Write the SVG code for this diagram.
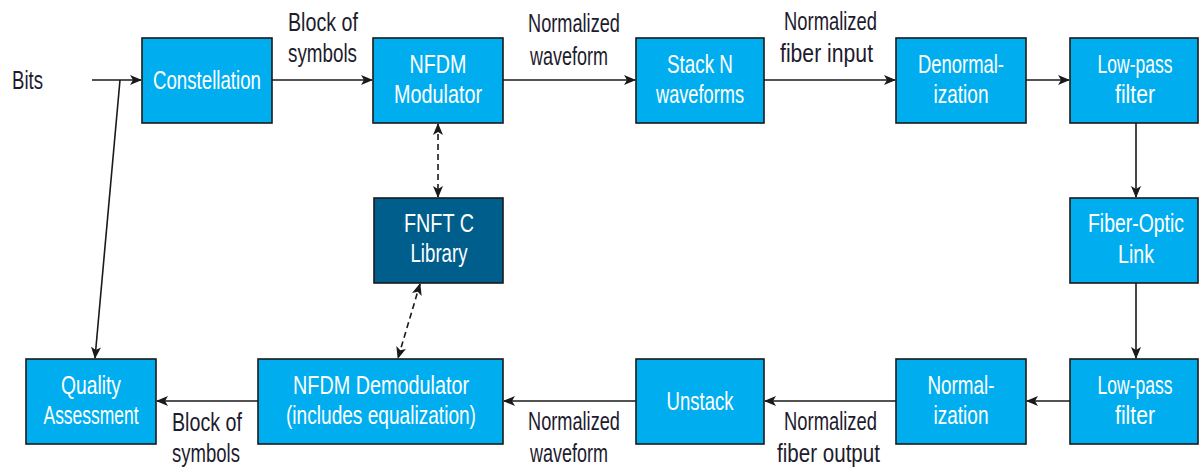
<svg xmlns="http://www.w3.org/2000/svg" width="1200" height="471" viewBox="0 0 1200 471">
<style>
.box{fill:#00aeef;stroke:#1a1a1a;stroke-width:1.6}
.dark{fill:#005e8c;stroke:#1a1a1a;stroke-width:1.6}
.nt{font-family:"Liberation Sans",Arial,sans-serif;font-size:26px;fill:#ffffff;text-anchor:middle}
.lt{font-family:"Liberation Sans",Arial,sans-serif;font-size:26px;fill:#1e1b2e}
.c{stroke:#1a1a1a;stroke-width:1.6;fill:none}
.d{stroke:#1a1a1a;stroke-width:1.6;fill:none;stroke-dasharray:6 4}
</style>
<defs>
<marker id="ah" viewBox="0 0 12 10" refX="11" refY="5" markerWidth="12" markerHeight="10" markerUnits="userSpaceOnUse" orient="auto-start-reverse">
<path d="M0,0 L12,5 L0,10 L3,5 Z" fill="#1a1a1a"/>
</marker>
</defs>
<rect width="1200" height="471" fill="#ffffff"/>

<g id="connectors">
<line class="c" x1="92" y1="80" x2="141" y2="80" marker-end="url(#ah)"/>
<line class="c" x1="272" y1="80" x2="372" y2="80" marker-end="url(#ah)"/>
<line class="c" x1="503" y1="80" x2="635" y2="80" marker-end="url(#ah)"/>
<line class="c" x1="764" y1="80" x2="895" y2="80" marker-end="url(#ah)"/>
<line class="c" x1="1026" y1="80" x2="1069" y2="80" marker-end="url(#ah)"/>
<line class="c" x1="1136" y1="123" x2="1136" y2="197" marker-end="url(#ah)"/>
<line class="c" x1="1136" y1="283" x2="1136" y2="358" marker-end="url(#ah)"/>
<line class="c" x1="1070" y1="401" x2="1027" y2="401" marker-end="url(#ah)"/>
<line class="c" x1="896" y1="401" x2="765" y2="401" marker-end="url(#ah)"/>
<line class="c" x1="636" y1="401" x2="504" y2="401" marker-end="url(#ah)"/>
<line class="c" x1="258" y1="401" x2="157" y2="401" marker-end="url(#ah)"/>
<line class="c" x1="120" y1="80" x2="95" y2="358" marker-end="url(#ah)"/>
<line class="d" x1="438" y1="124" x2="438" y2="197" marker-start="url(#ah)" marker-end="url(#ah)"/>
<line class="d" x1="420" y1="284" x2="398" y2="358" marker-start="url(#ah)" marker-end="url(#ah)"/>
</g>

<g id="labels">
<text class="lt" transform="scale(0.7 1)" x="17.14" y="89" textLength="44.3" lengthAdjust="spacingAndGlyphs">Bits</text>
<text class="lt" transform="scale(0.7 1)" x="411.43" y="31" textLength="100" lengthAdjust="spacingAndGlyphs">Block of</text>
<text class="lt" transform="scale(0.7 1)" x="411.43" y="62" textLength="98.6" lengthAdjust="spacingAndGlyphs">symbols</text>
<text class="lt" transform="scale(0.7 1)" x="754.29" y="32" textLength="131.4" lengthAdjust="spacingAndGlyphs">Normalized</text>
<text class="lt" transform="scale(0.7 1)" x="757.14" y="65" textLength="111.4" lengthAdjust="spacingAndGlyphs">waveform</text>
<text class="lt" transform="scale(0.7 1)" x="1120" y="30" textLength="132.9" lengthAdjust="spacingAndGlyphs">Normalized</text>
<text class="lt" transform="scale(0.7 1)" x="1114.29" y="62" textLength="132.9" lengthAdjust="spacingAndGlyphs">fiber input</text>
<text class="lt" transform="scale(0.7 1)" x="245.71" y="431" textLength="100" lengthAdjust="spacingAndGlyphs">Block of</text>
<text class="lt" transform="scale(0.7 1)" x="245.71" y="462" textLength="97.1" lengthAdjust="spacingAndGlyphs">symbols</text>
<text class="lt" transform="scale(0.7 1)" x="754.29" y="430" textLength="131.4" lengthAdjust="spacingAndGlyphs">Normalized</text>
<text class="lt" transform="scale(0.7 1)" x="757.14" y="462" textLength="111.4" lengthAdjust="spacingAndGlyphs">waveform</text>
<text class="lt" transform="scale(0.7 1)" x="1120" y="430" textLength="132.9" lengthAdjust="spacingAndGlyphs">Normalized</text>
<text class="lt" transform="scale(0.7 1)" x="1110" y="462" textLength="147.1" lengthAdjust="spacingAndGlyphs">fiber output</text>
</g>

<g id="constellation">
<rect class="box" x="142" y="38" width="130" height="85"/>
<text class="nt" transform="scale(0.7 1)" x="295.71" y="89" textLength="154.3" lengthAdjust="spacingAndGlyphs">Constellation</text>
</g>
<g id="nfdm-modulator">
<rect class="box" x="373" y="38" width="130" height="85"/>
<text class="nt" transform="scale(0.7 1)" x="625.71" y="73" textLength="81.4" lengthAdjust="spacingAndGlyphs">NFDM</text>
<text class="nt" transform="scale(0.7 1)" x="625.71" y="103" textLength="125.7" lengthAdjust="spacingAndGlyphs">Modulator</text>
</g>
<g id="stack">
<rect class="box" x="636" y="38" width="128" height="85"/>
<text class="nt" transform="scale(0.7 1)" x="1000" y="73" textLength="94.3" lengthAdjust="spacingAndGlyphs">Stack N</text>
<text class="nt" transform="scale(0.7 1)" x="1000" y="103" textLength="125.7" lengthAdjust="spacingAndGlyphs">waveforms</text>
</g>
<g id="denormalization">
<rect class="box" x="896" y="38" width="130" height="85"/>
<text class="nt" transform="scale(0.7 1)" x="1372.86" y="73" textLength="122.9" lengthAdjust="spacingAndGlyphs">Denormal-</text>
<text class="nt" transform="scale(0.7 1)" x="1372.86" y="103" textLength="78.6" lengthAdjust="spacingAndGlyphs">ization</text>
</g>
<g id="lpf-tx">
<rect class="box" x="1070" y="38" width="128" height="85"/>
<text class="nt" transform="scale(0.7 1)" x="1621.43" y="73" textLength="107.1" lengthAdjust="spacingAndGlyphs">Low-pass</text>
<text class="nt" transform="scale(0.7 1)" x="1621.43" y="103" textLength="57.1" lengthAdjust="spacingAndGlyphs">filter</text>
</g>
<g id="fnft">
<rect class="dark" x="374" y="198" width="129" height="85"/>
<text class="nt" transform="scale(0.7 1)" x="627.14" y="232" textLength="100" lengthAdjust="spacingAndGlyphs">FNFT C</text>
<text class="nt" transform="scale(0.7 1)" x="627.14" y="262" textLength="81.4" lengthAdjust="spacingAndGlyphs">Library</text>
</g>
<g id="fiber">
<rect class="box" x="1070" y="198" width="128" height="85"/>
<text class="nt" transform="scale(0.7 1)" x="1622.86" y="232" textLength="137.1" lengthAdjust="spacingAndGlyphs">Fiber-Optic</text>
<text class="nt" transform="scale(0.7 1)" x="1622.86" y="263" textLength="51.4" lengthAdjust="spacingAndGlyphs">Link</text>
</g>
<g id="quality">
<rect class="box" x="26" y="359" width="130" height="85"/>
<text class="nt" transform="scale(0.7 1)" x="130" y="394" textLength="85.7" lengthAdjust="spacingAndGlyphs">Quality</text>
<text class="nt" transform="scale(0.7 1)" x="130" y="424" textLength="135.7" lengthAdjust="spacingAndGlyphs">Assessment</text>
</g>
<g id="nfdm-demodulator">
<rect class="box" x="258" y="359" width="245" height="85"/>
<text class="nt" transform="scale(0.7 1)" x="544.29" y="394" textLength="251.4" lengthAdjust="spacingAndGlyphs">NFDM Demodulator</text>
<text class="nt" transform="scale(0.7 1)" x="544.29" y="424" textLength="271.4" lengthAdjust="spacingAndGlyphs">(includes equalization)</text>
</g>
<g id="unstack">
<rect class="box" x="636" y="359" width="128" height="85"/>
<text class="nt" transform="scale(0.7 1)" x="1000" y="410" textLength="95.7" lengthAdjust="spacingAndGlyphs">Unstack</text>
</g>
<g id="normalization">
<rect class="box" x="896" y="359" width="130" height="85"/>
<text class="nt" transform="scale(0.7 1)" x="1372.86" y="394" textLength="95.7" lengthAdjust="spacingAndGlyphs">Normal-</text>
<text class="nt" transform="scale(0.7 1)" x="1372.86" y="424" textLength="78.6" lengthAdjust="spacingAndGlyphs">ization</text>
</g>
<g id="lpf-rx">
<rect class="box" x="1070" y="359" width="128" height="85"/>
<text class="nt" transform="scale(0.7 1)" x="1621.43" y="394" textLength="107.1" lengthAdjust="spacingAndGlyphs">Low-pass</text>
<text class="nt" transform="scale(0.7 1)" x="1621.43" y="424" textLength="57.1" lengthAdjust="spacingAndGlyphs">filter</text>
</g>
</svg>
